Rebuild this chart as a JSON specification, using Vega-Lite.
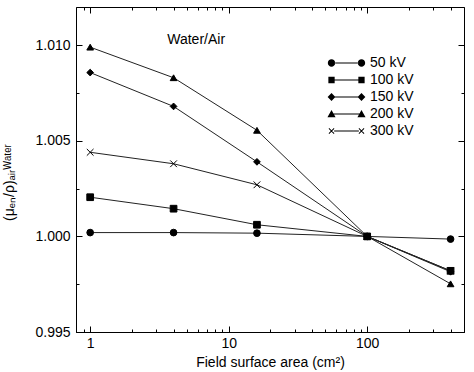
{
  "$schema": "https://vega.github.io/schema/vega-lite/v6.json",
  "width": 388,
  "height": 325,
  "autosize": {"type": "none"},
  "padding": {"left": 76, "top": 7, "right": 10, "bottom": 40},
  "background": "white",
  "config": {
    "font": "Liberation Sans",
    "view": {"stroke": "black", "strokeWidth": 1},
    "axis": {"labelColor": "black", "titleColor": "black", "tickColor": "black", "domainColor": "black", "labelFontSize": 14, "titleFontSize": 14, "titleFontWeight": "normal", "grid": false, "labelOverlap": false, "labelFlush": false}
  },
  "datasets": {
    "pts": [
      {"area": 1, "v": 1.0002, "kV": "50 kV"},
      {"area": 4, "v": 1.0002, "kV": "50 kV"},
      {"area": 16, "v": 1.00017, "kV": "50 kV"},
      {"area": 100, "v": 1.0, "kV": "50 kV"},
      {"area": 400, "v": 0.99986, "kV": "50 kV"},
      {"area": 1, "v": 1.00205, "kV": "100 kV"},
      {"area": 4, "v": 1.00145, "kV": "100 kV"},
      {"area": 16, "v": 1.00061, "kV": "100 kV"},
      {"area": 100, "v": 1.0, "kV": "100 kV"},
      {"area": 400, "v": 0.9982, "kV": "100 kV"},
      {"area": 1, "v": 1.00857, "kV": "150 kV"},
      {"area": 4, "v": 1.0068, "kV": "150 kV"},
      {"area": 16, "v": 1.0039, "kV": "150 kV"},
      {"area": 100, "v": 1.0, "kV": "150 kV"},
      {"area": 400, "v": 0.99815, "kV": "150 kV"},
      {"area": 1, "v": 1.0099, "kV": "200 kV"},
      {"area": 4, "v": 1.0083, "kV": "200 kV"},
      {"area": 16, "v": 1.00555, "kV": "200 kV"},
      {"area": 100, "v": 1.0, "kV": "200 kV"},
      {"area": 400, "v": 0.99752, "kV": "200 kV"},
      {"area": 1, "v": 1.0044, "kV": "300 kV"},
      {"area": 4, "v": 1.0038, "kV": "300 kV"},
      {"area": 16, "v": 1.0027, "kV": "300 kV"},
      {"area": 100, "v": 1.0, "kV": "300 kV"},
      {"area": 400, "v": 0.9982, "kV": "300 kV"}
    ],
    "note": [{"area": 3.6, "v": 1.01025, "label": "Water/Air"}]
  },
  "resolve": {
    "scale": {"shape": "independent"},
    "legend": {"shape": "independent"},
    "axis": {"x": "independent", "y": "independent"}
  },
  "layer": [
    {
      "data": {"name": "pts"},
      "mark": {"type": "line", "color": "#222", "strokeWidth": 1},
      "encoding": {
        "x": {
          "field": "area", "type": "quantitative",
          "scale": {"type": "log", "domain": [0.79, 500], "nice": false},
          "axis": {
            "orient": "bottom",
            "title": "Field surface area (cm²)",
            "titlePadding": 2,
            "values": [0.9, 1, 2, 3, 4, 5, 6, 7, 8, 9, 10, 20, 30, 40, 50, 60, 70, 80, 90, 100, 200, 300, 400, 500],
            "labelExpr": "indexof([1,10,100], datum.value) >= 0 ? '' + datum.value : ''",
            "tickSize": {"condition": {"test": "indexof([1,10,100], datum.value) >= 0", "value": -6}, "value": -3},
            "labelPadding": 10
          }
        },
        "y": {
          "field": "v", "type": "quantitative",
          "scale": {"domain": [0.995, 1.012], "nice": false, "zero": false},
          "axis": {
            "orient": "left",
            "title": "(μₑₙ/ρ)ₐᵢᵣᵂᵃᵗᵉʳ",
            "titlePadding": 18,
            "titleY": 175,
            "values": [0.995, 0.9975, 1.0, 1.0025, 1.005, 1.0075, 1.01],
            "labelExpr": "abs(datum.value*200 - round(datum.value*200)) < 1e-6 ? format(datum.value, '.3f') : ''",
            "tickSize": {"condition": {"test": "abs(datum.value*200 - round(datum.value*200)) < 1e-6", "value": -6}, "value": -3},
            "labelPadding": 12
          }
        },
        "detail": {"field": "kV"}
      }
    },
    {
      "data": {"name": "pts"},
      "mark": {"type": "point", "filled": true, "color": "black", "stroke": "black", "strokeWidth": 1, "opacity": 1, "size": 45},
      "encoding": {
        "x": {
          "field": "area", "type": "quantitative",
          "axis": {
            "orient": "top", "title": null, "labels": false, "domain": false,
            "values": [0.9, 1, 2, 3, 4, 5, 6, 7, 8, 9, 10, 20, 30, 40, 50, 60, 70, 80, 90, 100, 200, 300, 400, 500],
            "tickSize": {"condition": {"test": "indexof([1,10,100], datum.value) >= 0", "value": -6}, "value": -3}
          }
        },
        "y": {
          "field": "v", "type": "quantitative",
          "axis": {
            "orient": "right", "title": null, "labels": false, "domain": false,
            "values": [0.995, 0.9975, 1.0, 1.0025, 1.005, 1.0075, 1.01],
            "tickSize": {"condition": {"test": "abs(datum.value*200 - round(datum.value*200)) < 1e-6", "value": -6}, "value": -3}
          }
        },
        "shape": {
          "field": "kV", "type": "nominal",
          "scale": {"domain": ["50 kV", "100 kV", "150 kV", "200 kV", "300 kV"], "range": ["circle", "square", "diamond", "triangle-up", "M-1,-1L1,1M-1,1L1,-1"]},
          "legend": null
        }
      }
    },
    {
      "data": {"name": "pts"},
      "transform": [{"filter": "false"}],
      "mark": {"type": "point", "filled": true, "color": "black"},
      "encoding": {
        "x": {"field": "area", "type": "quantitative", "axis": null},
        "y": {"field": "v", "type": "quantitative", "axis": null},
        "shape": {
          "field": "kV", "type": "nominal",
          "scale": {
            "domain": ["50 kV", "100 kV", "150 kV", "200 kV", "300 kV"],
            "range": [
              "M-1.01,0A0.2,0.2,0,1,0,-0.61,0A0.2,0.2,0,1,0,-1.01,0ZM0.61,0A0.2,0.2,0,1,0,1.01,0A0.2,0.2,0,1,0,0.61,0ZM-0.63,-0.03H0.63V0.03H-0.63Z",
              "M-0.98,-0.17H-0.64V0.17H-0.98ZM0.64,-0.17H0.98V0.17H0.64ZM-0.65,-0.03H0.65V0.03H-0.65Z",
              "M-0.81,-0.21L-0.6,0L-0.81,0.21L-1.02,0ZM0.81,-0.21L1.02,0L0.81,0.21L0.6,0ZM-0.62,-0.03H0.62V0.03H-0.62Z",
              "M-0.81,-0.22L-0.59,0.18L-1.03,0.18ZM0.81,-0.22L1.03,0.18L0.59,0.18ZM-0.7,-0.03H0.7V0.03H-0.7Z",
              "M-0.932,-0.158L-0.652,0.122L-0.688,0.158L-0.968,-0.122ZM-0.968,0.122L-0.688,-0.158L-0.652,-0.122L-0.932,0.158ZM0.688,-0.158L0.968,0.122L0.932,0.158L0.652,-0.122ZM0.652,0.122L0.932,-0.158L0.968,-0.122L0.688,0.158ZM-0.67,-0.03H0.67V0.03H-0.67Z"
            ]
          },
          "legend": {
            "title": null, "orient": "none", "legendX": 251, "legendY": 48,
            "symbolSize": 1369, "symbolFillColor": "black", "symbolOpacity": 1,
            "clipHeight": 16,
            "labelFontSize": 14, "labelColor": "black", "rowPadding": 1, "padding": 0
          }
        }
      }
    },
    {
      "data": {"name": "note"},
      "mark": {"type": "text", "align": "left", "baseline": "middle", "fontSize": 14, "color": "black"},
      "encoding": {
        "x": {"field": "area", "type": "quantitative", "axis": null},
        "y": {"field": "v", "type": "quantitative", "axis": null},
        "text": {"field": "label"}
      }
    }
  ]
}
